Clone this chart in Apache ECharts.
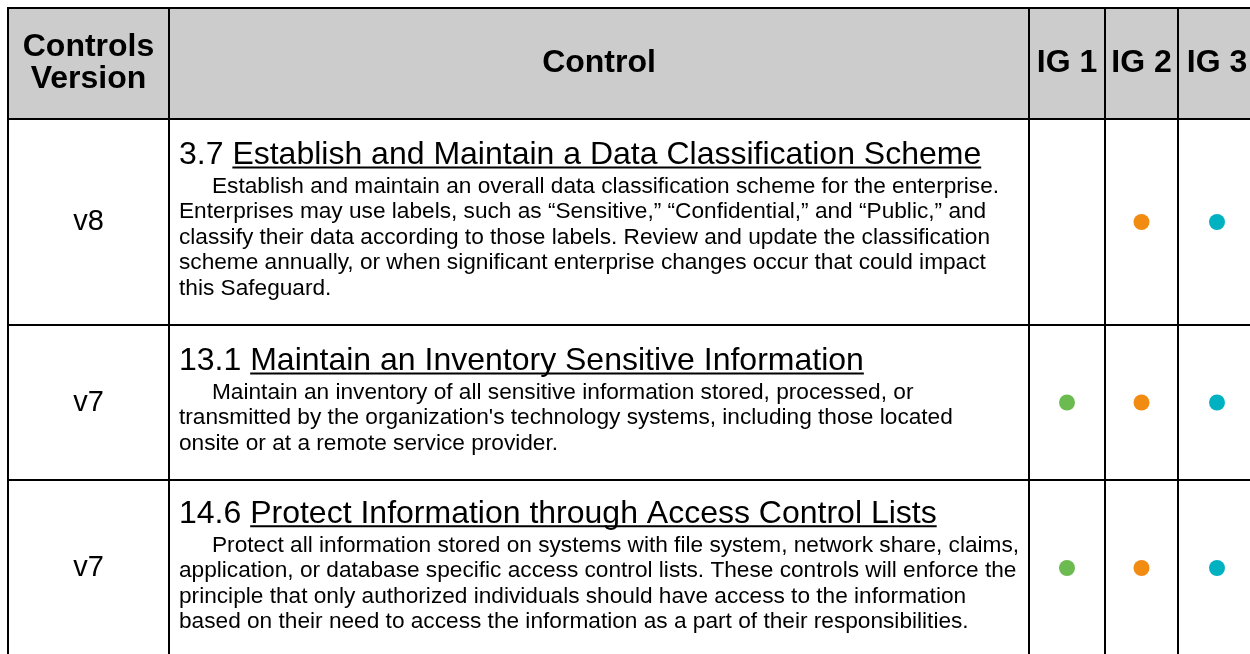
<!DOCTYPE html>
<html><head><meta charset="utf-8">
<script src="https://cdn.jsdelivr.net/npm/echarts@6/dist/echarts.min.js"></script>
<style>html,body{margin:0;padding:0;background:#fff;overflow:hidden}#c{width:1250px;height:654px}</style>
</head><body><div id="c"></div>
<script>
// ---------- data ----------
const headers = ['Controls\nVersion', 'Control', 'IG 1', 'IG 2', 'IG 3'];
const versions = ['v8', 'v7', 'v7'];
const safeguardIds = ['3.7', '13.1', '14.6'];
const safeguardTitles = [
  'Establish and Maintain a Data Classification Scheme',
  'Maintain an Inventory Sensitive Information',
  'Protect Information through Access Control Lists'
];
const descriptions = [
  [
    'Establish and maintain an overall data classification scheme for the enterprise.',
    'Enterprises may use labels, such as \u201cSensitive,\u201d \u201cConfidential,\u201d and \u201cPublic,\u201d and',
    'classify their data according to those labels. Review and update the classification',
    'scheme annually, or when significant enterprise changes occur that could impact',
    'this Safeguard.'
  ],
  [
    'Maintain an inventory of all sensitive information stored, processed, or',
    'transmitted by the organization\'s technology systems, including those located',
    'onsite or at a remote service provider.'
  ],
  [
    'Protect all information stored on systems with file system, network share, claims,',
    'application, or database specific access control lists. These controls will enforce the',
    'principle that only authorized individuals should have access to the information',
    'based on their need to access the information as a part of their responsibilities.'
  ]
];
const ig1 = [false, true, true];
const ig2 = [true, true, true];
const ig3 = [true, true, true];

// ---------- layout ----------
const colEdges = [8, 169, 1029, 1105, 1178, 1256];
const rowEdges = [8, 119, 325, 480, 656];
const FONT = '"Liberation Sans", Arial, Helvetica, sans-serif';
const headerFill = '#cccccc';
const dotColors = ['#6cbb51', '#f28b12', '#00b2c1'];
const HEADER_SIZE = 32, HEADER_LH = 32;
const VERSION_SIZE = 29;
const TITLE_SIZE = 32, DESC_SIZE = 22.67, DESC_LH = 25.5, TITLE_GAP = 31;
const PAD_LEFT = 10, INDENT = 33, BLOCK_SHIFT = 0;

const measureCtx = document.createElement('canvas').getContext('2d');
function textWidth(str, size) {
  measureCtx.font = size + 'px ' + FONT;
  return measureCtx.measureText(str).width;
}

// cells
const cellData = [];
for (let r = 0; r < rowEdges.length - 1; r++)
  for (let c = 0; c < colEdges.length - 1; c++) cellData.push([c, r]);

// dots
const dotData = [];
[ig1, ig2, ig3].forEach((arr, k) => arr.forEach((v, r) => { if (v) dotData.push([k + 2, r + 1, k]); }));

const chart = echarts.init(document.getElementById('c'), null, { renderer: 'canvas' });

function cellRect(api, c, r) {
  const p0 = api.coord([colEdges[c], rowEdges[r]]);
  const p1 = api.coord([colEdges[c + 1], rowEdges[r + 1]]);
  return { x: p0[0], y: p0[1], w: p1[0] - p0[0], h: p1[1] - p0[1] };
}

function txt(x, y, text, size, weight, align) {
  return {
    type: 'text',
    style: {
      x, y, text, fontSize: size, fontWeight: weight, fontFamily: FONT,
      fill: '#000', align, verticalAlign: 'middle'
    }
  };
}

chart.setOption({
  animation: false,
  grid: { left: 0, right: 0, top: 0, bottom: 0 },
  xAxis: { type: 'value', min: 0, max: 1250, show: false },
  yAxis: { type: 'value', min: 0, max: 654, inverse: true, show: false },
  series: [
    {
      type: 'custom', data: cellData, silent: true, z: 1, clip: false,
      renderItem(params, api) {
        const c = api.value(0), r = api.value(1);
        const b = cellRect(api, c, r);
        const children = [{
          type: 'rect',
          shape: { x: b.x, y: b.y, width: b.w, height: b.h },
          style: { fill: r === 0 ? headerFill : '#ffffff', stroke: '#000', lineWidth: 2 }
        }];
        const cx = b.x + b.w / 2, cy = b.y + b.h / 2;
        if (r === 0) {
          const lines = headers[c].split('\n');
          lines.forEach((ln, i) => {
            children.push(txt(cx, cy + (i - (lines.length - 1) / 2) * HEADER_LH, ln, HEADER_SIZE, 'bold', 'center'));
          });
        } else if (c === 0) {
          children.push(txt(cx, cy, versions[r - 1], VERSION_SIZE, 'normal', 'center'));
        } else if (c === 1) {
          const i = r - 1;
          const desc = descriptions[i];
          const span = TITLE_GAP + (desc.length - 1) * DESC_LH;
          const titleY = cy + BLOCK_SHIFT - span / 2;
          const x0 = b.x + PAD_LEFT;
          const idPart = safeguardIds[i] + ' ';
          const full = idPart + safeguardTitles[i];
          children.push(txt(x0, titleY, full, TITLE_SIZE, 'normal', 'left'));
          const u0 = x0 + textWidth(idPart, TITLE_SIZE);
          const u1 = x0 + textWidth(full, TITLE_SIZE);
          const uy = titleY + 0.31 * TITLE_SIZE + 2;
          children.push({
            type: 'line',
            shape: { x1: u0, y1: uy, x2: u1, y2: uy },
            style: { stroke: '#000', lineWidth: 2 }
          });
          desc.forEach((ln, k) => {
            children.push(txt(x0 + (k === 0 ? INDENT : 0), titleY + TITLE_GAP + k * DESC_LH, ln, DESC_SIZE, 'normal', 'left'));
          });
        }
        return { type: 'group', children };
      }
    },
    {
      type: 'custom', data: dotData, silent: true, z: 3,
      renderItem(params, api) {
        const c = api.value(0), r = api.value(1), k = api.value(2);
        const b = cellRect(api, c, r);
        return {
          type: 'circle',
          shape: { cx: b.x + b.w / 2, cy: b.y + b.h / 2, r: 8 },
          style: { fill: dotColors[k] }
        };
      }
    }
  ]
});
</script>
</body></html>
